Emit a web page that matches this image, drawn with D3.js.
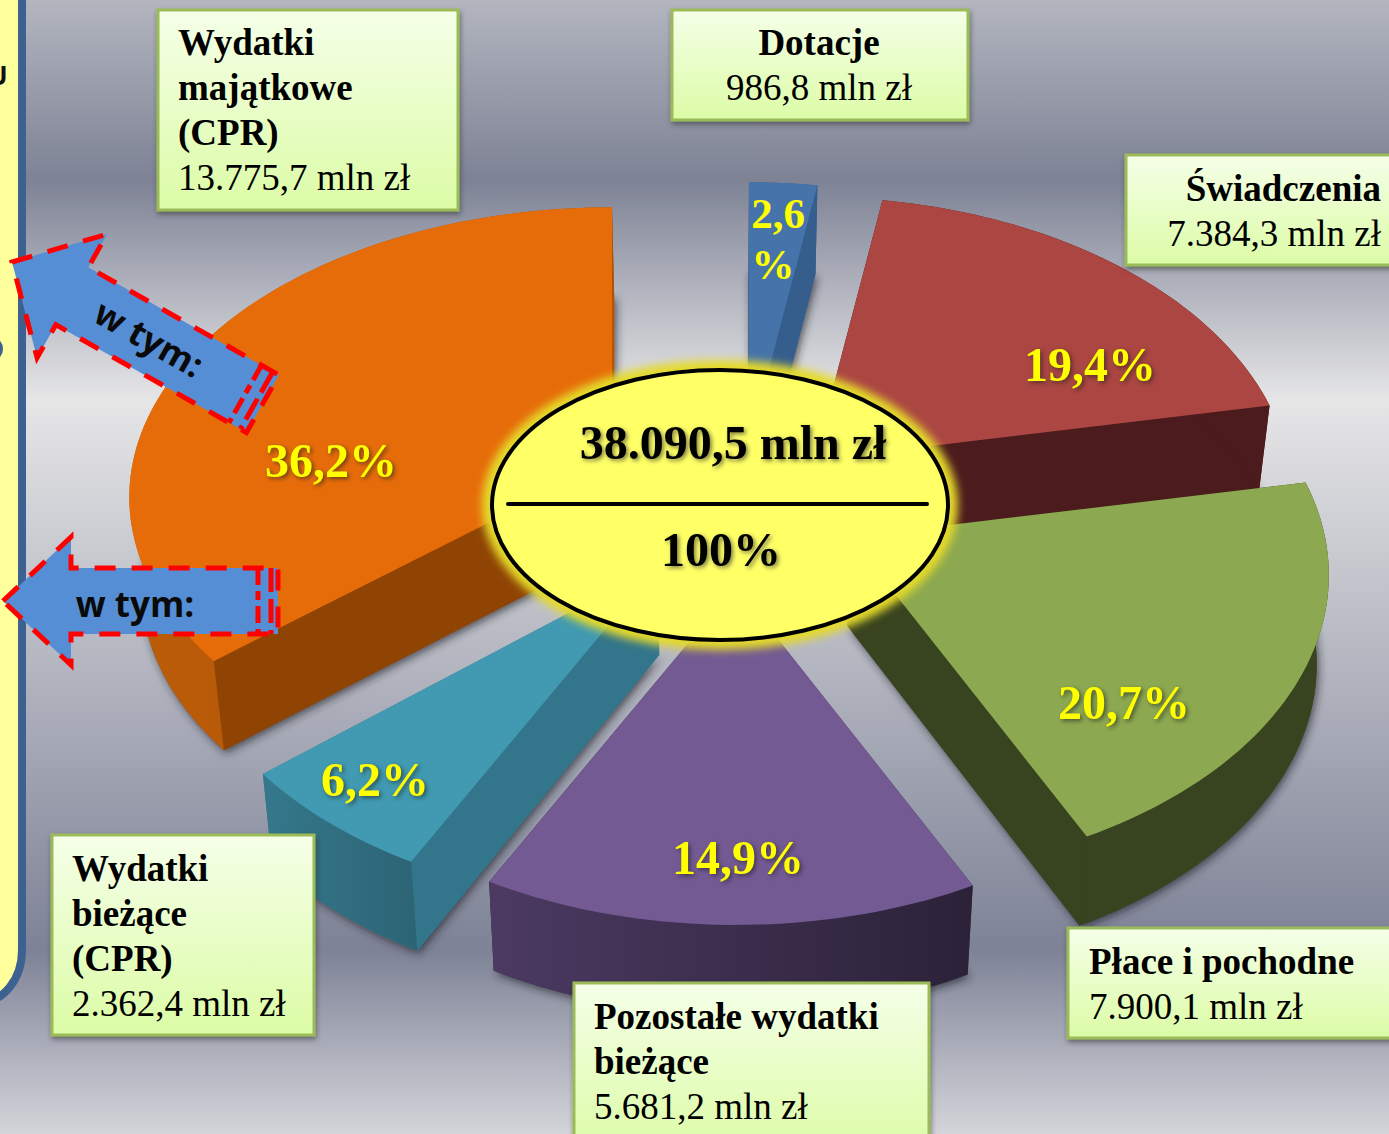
<!DOCTYPE html>
<html><head><meta charset="utf-8">
<script src="https://cdnjs.cloudflare.com/ajax/libs/d3/7.8.5/d3.min.js"></script>
<style>html,body{margin:0;padding:0;background:#fff;overflow:hidden}svg{display:block}</style>
</head><body><svg id="c" width="1389" height="1134"></svg>
<script>
// ---- data ----
const categories = ["Dotacje","Świadczenia","Płace i pochodne","Pozostałe wydatki bieżące","Wydatki bieżące (CPR)","Wydatki majątkowe (CPR)"];
const amounts    = [986.8, 7384.3, 7900.1, 5681.2, 2362.4, 13775.7];
const percents   = [2.6, 19.4, 20.7, 14.9, 6.2, 36.2];
const nameLines  = [["Dotacje"],["Świadczenia"],["Płace i pochodne"],["Pozostałe wydatki","bieżące"],["Wydatki","bieżące","(CPR)"],["Wydatki","majątkowe","(CPR)"]];
const totalLabel = "38.090,5 mln zł";
const totalPct   = "100%";
const arrowLabel = "w tym:";

// ---- styling / layout ----
const topColors  = ["#4573aa","#ab4642","#8ca850","#735a93","#419ab1","#e66c09"];
const rimColors  = ["#365e8c","#4c1b1d","#38431f","url(#purpleRim)","url(#tealRim)","url(#orangeRim)"];
const wallStart  = ["#365e8c","#4c1b1d","#38431f","#3f3054","#33758a","#8f4404"];
const wallEnd    = ["#365e8c","#4c1b1d","#38431f","#2b2238","#33758a","#b35608"];
const apexX      = [749,814,850,736,658,612];
const apexY      = [445,460,537,586,566,460.6];
const scaleX     = [1,1,1,1,1,1.008];
const scaleY     = [1,1,1,1,1,0.964];
const drawOrder  = [0,1,5,2,4,3];
const boxes = [
 {x:672,y:10,w:296,h:110,anchor:"middle",tx:819,by:55},
 {x:1126,y:155,w:270,h:110,anchor:"end",tx:1381,by:201},
 {x:1068,y:928,w:330,h:110,anchor:"start",tx:1089,by:974},
 {x:574,y:983,w:355,h:170,anchor:"start",tx:594,by:1029},
 {x:52,y:835,w:262,h:200,anchor:"start",tx:72,by:881},
 {x:158,y:10,w:300,h:200,anchor:"start",tx:178,by:55}];
const pctPos = [[778,228],[1090,381],[1124,719],[738,874],[375,796],[331,477]];

const svg = d3.select("#c");
const defs = svg.append("defs");
function vGrad(id,stops,h){const g=defs.append("linearGradient").attr("id",id).attr("x1",0).attr("x2",h?1:0).attr("y1",0).attr("y2",h?0:1);
  stops.forEach(s=>g.append("stop").attr("offset",s[0]).attr("stop-color",s[1]));}
vGrad("bg",[[0,"#b3b6bf"],[180/1134,"#7d8295"],[400/1134,"#e6e6e7"],[950/1134,"#7d8296"],[1,"#d4d5da"]]);
vGrad("boxFill",[[0,"#f5ffe8"],[1,"#dcfca6"]]);
vGrad("purpleRim",[[0,"#4c3a62"],[1,"#2b2238"]],true);
vGrad("tealRim",[[0,"#35788c"],[1,"#2c6475"]],true);
vGrad("orangeRim",[[0,"#bb5c08"],[1,"#aa5206"]],true);
const sh=defs.append("filter").attr("id","shadow").attr("x","-30%").attr("y","-30%").attr("width","160%").attr("height","160%");
sh.append("feDropShadow").attr("dx",2).attr("dy",3).attr("stdDeviation",4).attr("flood-color","#20222c").attr("flood-opacity",.7);
const bs=defs.append("filter").attr("id","boxShadow").attr("x","-10%").attr("y","-10%").attr("width","120%").attr("height","125%");
bs.append("feDropShadow").attr("dx",1).attr("dy",3).attr("stdDeviation",2.5).attr("flood-color","#333").attr("flood-opacity",.55);
const gl=defs.append("filter").attr("id","glow").attr("x","-15%").attr("y","-20%").attr("width","130%").attr("height","140%");
gl.append("feGaussianBlur").attr("stdDeviation",4);

svg.append("rect").attr("width",1389).attr("height",1134).attr("fill","url(#bg)");

// left panel
svg.append("rect").attr("x",-60).attr("y",-100).attr("width",82).attr("height",1102).attr("rx",52)
   .attr("fill","#ffff9c").attr("stroke","#3d6291").attr("stroke-width",8);
svg.append("text").attr("x",-12).attr("y",85).attr("font-family","Open Sans").attr("font-weight",700).attr("font-size",26).attr("fill","#111").text("U");
svg.append("ellipse").attr("cx",-8).attr("cy",349).attr("rx",11).attr("ry",12).attr("fill","#3d6291");

// pie geometry
const pie = d3.pie().sort(null).startAngle(0).endAngle(2*Math.PI)(amounts);
const RX = 475, RY = 296, K = 0.1266, DEPTH = 89, VX = 720, CONV = 0.02;
const xs = d3.scaleLinear().domain([0,1]).range([0,RX]);
const ys = d3.scaleLinear().domain([0,1]).range([0,RY]);
function rimPoint(i,a){
  const X=Math.sin(a),Y=-Math.cos(a),w=1-K*Y;
  return [apexX[i]+scaleX[i]*xs(X/w),apexY[i]+scaleY[i]*ys(Y/w)];
}
const extrude = p => [p[0]+(VX-p[0])*CONV,p[1]+DEPTH];
const line = d3.line();
const slices = svg.append("g");
drawOrder.forEach(i=>{
  const d=pie[i], n=Math.max(8,Math.ceil((d.endAngle-d.startAngle)*40));
  const rim=d3.range(n+1).map(j=>rimPoint(i,d.startAngle+(d.endAngle-d.startAngle)*j/n));
  const apex=[apexX[i],apexY[i]];
  const top=[apex,...rim], lower=top.map(extrude);
  const g=slices.append("g");
  g.append("path").attr("d",line(lower)+"Z").attr("fill",wallStart[i]).attr("filter","url(#shadow)");
  g.append("path").attr("d",line([apex,rim[0],extrude(rim[0]),extrude(apex)])+"Z").attr("fill",wallStart[i]);
  g.append("path").attr("d",line([apex,rim[n],extrude(rim[n]),extrude(apex)])+"Z").attr("fill",wallEnd[i]);
  g.append("path").attr("d",line([...rim,...rim.slice().reverse().map(extrude)])+"Z").attr("fill",rimColors[i]);
  g.append("path").attr("d",line(top)+"Z").attr("fill",topColors[i]);
});

// arrows, in local coordinates with the tip at the origin pointing left
function arrow(g,tail,barb,thick){
  const pts=[[0,0],[barb[0],-barb[1]],[barb[0],-thick],[tail,-thick],[tail,thick],[barb[0],thick],[barb[0],barb[1]]];
  g.append("path").attr("d",line(pts)+"Z").attr("fill","#558ed5");
  g.append("path").attr("d",line(pts)+"Z").attr("fill","none").attr("stroke","#ff0000").attr("stroke-width",5).attr("stroke-dasharray","21 16");
  [tail-20,tail-7].forEach((x,k)=>g.append("line").attr("x1",x).attr("x2",x).attr("y1",-thick).attr("y2",thick)
     .attr("stroke","#ff0000").attr("stroke-width",5).attr("stroke-dasharray",k?"24 7":"17 6 9 6"));
}
const a1=svg.append("g").attr("transform","translate(12,262) rotate(29.5)");
arrow(a1,288,[69,71],33);
a1.append("text").attr("x",157).attr("y",12).attr("text-anchor","middle").attr("font-family","Open Sans").attr("font-weight",700).attr("font-size",35).attr("fill","#0a0a0a").text(arrowLabel);
const a2=svg.append("g").attr("transform","translate(3,601)");
arrow(a2,275,[68,64],33);
a2.append("text").attr("x",132).attr("y",16).attr("text-anchor","middle").attr("font-family","Open Sans").attr("font-weight",700).attr("font-size",35).attr("fill","#0a0a0a").text(arrowLabel);

// centre ellipse
svg.append("ellipse").attr("cx",720).attr("cy",505).attr("rx",238).attr("ry",145).attr("fill","#e4da2c").attr("filter","url(#glow)");
svg.append("ellipse").attr("cx",720).attr("cy",505).attr("rx",228).attr("ry",135).attr("fill","#ffff66").attr("stroke","#000").attr("stroke-width",4);
svg.append("line").attr("x1",508).attr("x2",927).attr("y1",504).attr("y2",504).attr("stroke","#000").attr("stroke-width",4).attr("stroke-linecap","round");
const serif="Liberation Serif";
const cShadow="drop-shadow(2px 2px 2px rgba(40,40,40,.6))";
svg.append("text").attr("x",733).attr("y",459).attr("text-anchor","middle").attr("font-family",serif).attr("font-weight",700).attr("font-size",48).attr("fill","#000").style("filter",cShadow).text(totalLabel);
svg.append("text").attr("x",721).attr("y",566).attr("text-anchor","middle").attr("font-family",serif).attr("font-weight",700).attr("font-size",48).attr("fill","#000").style("filter",cShadow).text(totalPct);

// percent labels
const fmtPct=d3.formatLocale({decimal:",",thousands:".",grouping:[3],currency:["",""]}).format(".1f");
percents.forEach((p,i)=>{
  const t=svg.append("text").attr("text-anchor","middle").attr("font-family",serif).attr("font-weight",700).attr("fill","#ffff00");
  if(i===0){
    t.attr("font-size",43);
    t.append("tspan").attr("x",pctPos[i][0]).attr("y",pctPos[i][1]).text(fmtPct(p));
    t.append("tspan").attr("x",pctPos[i][0]-5).attr("y",pctPos[i][1]+51).text("%");
  } else {
    t.attr("font-size",48).attr("x",pctPos[i][0]).attr("y",pctPos[i][1]).style("filter","drop-shadow(2px 2px 2px rgba(30,30,30,.6))").text(fmtPct(p)+"%");
  }
});

// label boxes
const fmtAmt=d3.formatLocale({decimal:",",thousands:".",grouping:[3],currency:["",""]}).format(",.1f");
boxes.forEach((b,i)=>{
  svg.append("rect").attr("x",b.x).attr("y",b.y).attr("width",b.w).attr("height",b.h)
     .attr("fill","url(#boxFill)").attr("stroke","#9bbb59").attr("stroke-width",3).attr("filter","url(#boxShadow)");
  const t=svg.append("text").attr("font-family",serif).attr("font-size",37).attr("fill","#000").attr("text-anchor",b.anchor);
  nameLines[i].forEach((l,k)=>t.append("tspan").attr("x",b.tx).attr("y",b.by+k*45).attr("font-weight",700).text(l));
  t.append("tspan").attr("x",b.tx).attr("y",b.by+nameLines[i].length*45).text(fmtAmt(amounts[i])+" mln zł");
});
</script></body></html>
